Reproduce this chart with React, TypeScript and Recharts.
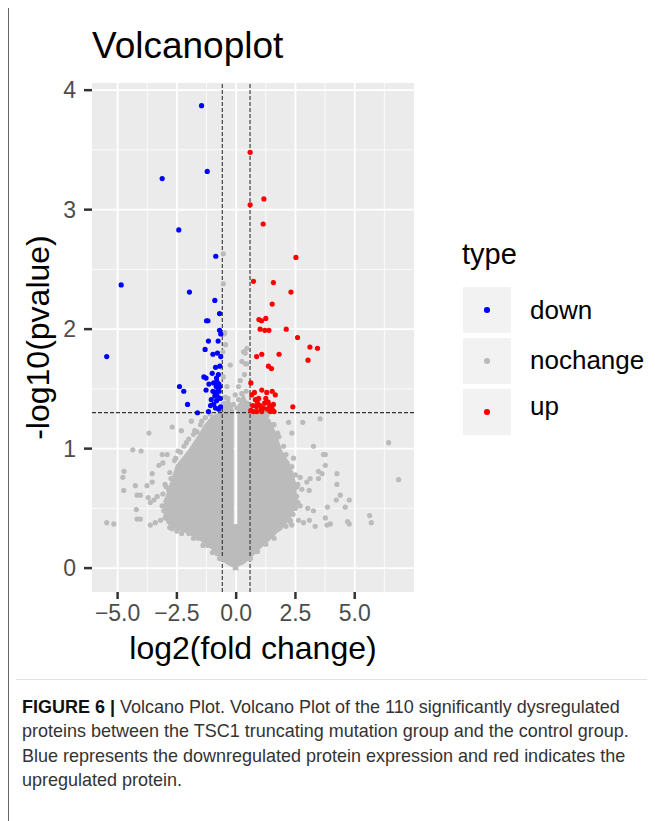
import React from "react";
import {
  ComposedChart,
  Area,
  Scatter,
  XAxis,
  YAxis,
  CartesianGrid,
  ReferenceLine,
  Legend,
} from "recharts";

// significant proteins, [log2 fold change, -log10 p]
const downPoints: [number, number][] = [
  [-1.46, 3.87], [-1.22, 3.32], [-3.12, 3.26], [-2.42, 2.83], [-0.86, 2.61],
  [-4.85, 2.37], [-1.97, 2.31], [-0.9, 2.24], [-0.7, 2.13], [-1.25, 2.07],
  [-1.19, 2.07], [-0.7, 1.99], [-0.65, 1.96], [-1.17, 1.9], [-0.76, 1.9],
  [-1.31, 1.83], [-0.98, 1.79], [-0.79, 1.8], [-0.65, 1.77], [-5.46, 1.77],
  [-0.87, 1.68], [-0.69, 1.69], [-1.01, 1.63], [-1.36, 1.6], [-1.27, 1.59],
  [-0.83, 1.59], [-1.15, 1.54], [-0.81, 1.56], [-0.73, 1.54], [-0.84, 1.52],
  [-0.69, 1.52], [-2.39, 1.52], [-2.21, 1.48], [-1.27, 1.49], [-0.98, 1.48],
  [-0.9, 1.47], [-0.79, 1.48], [-0.72, 1.48], [-0.9, 1.44], [-0.8, 1.44],
  [-1.05, 1.41], [-0.83, 1.4], [-2.05, 1.37], [-1.08, 1.36], [-0.87, 1.34],
  [-0.73, 1.33], [-1.17, 1.31], [-1.63, 1.3], [-0.95, 1.55], [-0.75, 1.62],
  [-0.68, 1.42], [-0.95, 1.37], [-0.66, 1.35],
];

const upPoints: [number, number][] = [
  [0.59, 3.48], [1.17, 3.09], [0.59, 3.04], [1.14, 2.88], [2.52, 2.6],
  [0.73, 2.4], [1.57, 2.39], [2.31, 2.31], [1.52, 2.21], [0.96, 2.08],
  [1.07, 2.07], [1.25, 2.09], [1.01, 2.0], [1.21, 1.99], [1.38, 1.99],
  [2.11, 2.0], [2.59, 1.93], [3.11, 1.85], [3.43, 1.84], [3.03, 1.74],
  [0.86, 1.77], [1.08, 1.79], [1.81, 1.79], [1.36, 1.69], [1.49, 1.67],
  [0.62, 1.55], [0.77, 1.47], [1.08, 1.49], [1.29, 1.47], [1.52, 1.48],
  [1.65, 1.45], [0.81, 1.41], [0.9, 1.38], [1.01, 1.36], [1.15, 1.34],
  [1.41, 1.36], [1.57, 1.37], [1.52, 1.33], [1.32, 1.33], [2.39, 1.35],
  [0.62, 1.32], [0.73, 1.31], [0.87, 1.31], [1.08, 1.31], [0.95, 1.42],
  [1.2, 1.38], [1.45, 1.31], [0.7, 1.36], [1.25, 1.42], [1.6, 1.31],
  [0.66, 1.45], [1.05, 1.33], [1.35, 1.39], [0.85, 1.35],
];

// scattered non-significant proteins around the dense core
const nochangePoints: [number, number][] = [
  [-5.46, 0.38], [-5.16, 0.37], [-4.78, 0.76], [-4.73, 0.81], [-4.36, 0.99],
  [-4.01, 0.98], [-3.68, 1.13], [-4.74, 0.65], [-4.25, 0.69], [-4.18, 0.61],
  [-4.04, 0.61], [-4.21, 0.49], [-4.18, 0.41], [-4.04, 0.41], [-3.76, 0.69],
  [-3.71, 0.59], [-3.62, 0.55], [-3.62, 0.36], [-3.54, 0.79], [-3.54, 0.72],
  [-3.47, 0.57], [-3.41, 0.38], [-3.33, 0.6], [-3.26, 0.86], [-3.19, 0.4],
  [-3.12, 0.95], [-3.12, 0.52], [-3.09, 0.88], [-3.09, 0.62], [-2.91, 0.95],
  [-2.91, 0.57], [-2.91, 0.44], [-2.84, 0.65], [-2.7, 1.18], [-2.7, 0.33],
  [-2.31, 1.15], [-2.21, 0.32], [-1.89, 1.23], [-1.86, 0.3], [-1.65, 1.14],
  [-1.36, 0.23], [-2.6, 0.9], [-2.45, 0.98], [-2.2, 1.02], [-2.0, 1.08],
  [-1.8, 1.12], [-1.5, 1.2], [-1.3, 1.26], [-1.1, 1.29], [-2.8, 0.8],
  [-3.0, 0.7], [-3.05, 0.48], [-2.6, 0.36], [-2.4, 0.35], [-2.0, 0.29],
  [-1.6, 0.25], [-1.2, 0.19], [-0.8, 0.12], [-0.5, 0.07],
  [-2.55, 0.92], [-2.35, 0.97], [-2.1, 1.05], [-1.75, 1.15], [-1.45, 1.23],
  [-2.95, 0.68], [-2.75, 0.75], [-2.8, 0.34], [-2.5, 0.31], [-2.3, 0.29],
  [-1.8, 0.25], [-1.4, 0.19], [-1.0, 0.13], [-0.7, 0.08], [-3.0, 0.42],
  [2.81, 1.22], [3.54, 1.25], [2.35, 1.13], [2.21, 1.22], [3.26, 1.02],
  [3.76, 0.95], [6.43, 1.05], [6.85, 0.74], [2.42, 0.92], [2.14, 0.88],
  [3.47, 0.81], [3.47, 0.75], [4.25, 0.79], [4.25, 0.7], [3.12, 0.75],
  [2.98, 0.72], [2.7, 0.76], [3.08, 0.65], [2.56, 0.68], [2.77, 0.66],
  [4.39, 0.61], [4.22, 0.57], [4.77, 0.57], [3.85, 0.51], [4.6, 0.51],
  [3.02, 0.5], [3.26, 0.48], [2.7, 0.52], [2.49, 0.51], [5.63, 0.44],
  [5.7, 0.38], [3.76, 0.42], [3.83, 0.36], [3.97, 0.37], [4.7, 0.39],
  [4.77, 0.37], [3.09, 0.4], [3.33, 0.35], [2.84, 0.38], [2.63, 0.4],
  [2.35, 0.36], [2.28, 0.4], [1.72, 0.99], [1.43, 0.27], [3.68, 0.95],
  [3.76, 0.86], [3.62, 0.79], [1.6, 1.2], [1.8, 1.1], [2.0, 1.02],
  [2.3, 0.8], [2.55, 0.6], [2.4, 0.45], [2.0, 0.37], [1.8, 0.33],
  [1.5, 0.28], [1.1, 0.21], [0.8, 0.14], [0.5, 0.08], [1.3, 1.28],
  [1.9, 0.6], [2.6, 0.55],
  [1.55, 1.2], [1.75, 1.13], [2.1, 0.95], [2.35, 0.85], [1.2, 1.3],
  [2.3, 0.38], [2.1, 0.35], [1.6, 0.25], [1.25, 0.2], [0.9, 0.14],
  [0.6, 0.08], [2.5, 0.5], [2.6, 0.7], [2.5, 0.78],
  [-0.54, 2.63], [-0.54, 2.38], [-0.51, 1.96], [-0.45, 1.87], [-0.56, 1.81],
  [-0.25, 1.7], [-0.54, 1.6], [-0.39, 1.52], [-0.46, 1.43], [-0.25, 1.35],
  [-0.11, 1.37], [-0.04, 1.45], [0.03, 1.34], [0.1, 1.52], [0.17, 1.57],
  [0.17, 1.36], [0.24, 1.46], [0.24, 1.73], [0.31, 1.81], [0.35, 1.62],
  [0.38, 1.8], [0.39, 1.71], [0.42, 1.48], [0.45, 1.84], [0.45, 1.71],
  [0.52, 1.34], [-0.48, 1.97], [-0.35, 1.42], [0.3, 1.4], [0.45, 1.38],
  [-0.5, 1.38], [0.1, 1.41],
];

// envelope of the dense grey core (too many points to draw one by one)
const leftCoreX = [-3.05, -2.9, -2.7, -2.5, -2.2, -1.9, -1.6, -1.3, -1.0, -0.6, -0.45, -0.3, -0.1];
const leftCoreLow = [0.47, 0.38, 0.35, 0.33, 0.31, 0.28, 0.25, 0.21, 0.16, 0.08, 0.05, 0.03, 0.01];
const leftCoreHigh = [0.55, 0.62, 0.74, 0.86, 0.93, 1.01, 1.1, 1.2, 1.27, 1.3, 1.38, 1.4, 1.3];
const rightCoreX = [0.05, 0.3, 0.6, 1.0, 1.4, 1.7, 1.9, 2.2, 2.45, 2.55];
const rightCoreLow = [0.02, 0.04, 0.09, 0.17, 0.24, 0.3, 0.33, 0.4, 0.5, 0.58];
const rightCoreHigh = [1.3, 1.45, 1.3, 1.3, 1.24, 1.1, 0.98, 0.88, 0.74, 0.66];
const centreCoreX = [-0.14, 0.09];
const centreCoreLow = [-0.01, -0.01];
const centreCoreHigh = [0.36, 0.36];

const xTicks = [-5, -2.5, 0, 2.5, 5];
const yTicks = [0, 1, 2, 3, 4];
const xMinor = [-3.75, -1.25, 1.25, 3.75, 6.25];
const yMinor = [0.5, 1.5, 2.5, 3.5];
const fcCutoff = 0.585;
const pCutoff = 1.301;

const types = ["down", "nochange", "up"];
const typeColors: Record<string, string> = {
  down: "#0000FF",
  nochange: "#BBBBBB",
  up: "#FF0000",
};

const captionLines = [
  "Volcano Plot. Volcano Plot of the 110 significantly dysregulated",
  "proteins between the TSC1 truncating mutation group and the control group.",
  "Blue represents the downregulated protein expression and red indicates the",
  "upregulated protein.",
];

const toXY = (pts: [number, number][]) => pts.map(([x, y]) => ({ x, y }));

const coreRows = [
  ...leftCoreX.map((x, i) => ({ x, left: [leftCoreLow[i], leftCoreHigh[i]] })),
  ...rightCoreX.map((x, i) => ({ x, right: [rightCoreLow[i], rightCoreHigh[i]] })),
  ...centreCoreX.map((x, i) => ({ x, centre: [centreCoreLow[i], centreCoreHigh[i]] })),
].sort((a, b) => a.x - b.x);

const dot = (color: string) => (p: any) =>
  <circle cx={p.cx} cy={p.cy} r={2.6} fill={color} />;

const fmtX = (v: number) => (v < 0 ? "\u2212" + Math.abs(v).toFixed(1) : v.toFixed(1));

const LegendBox = () => (
  <div style={{ position: "relative", width: 190, height: 210, fontFamily: "inherit" }}>
    <div style={{ position: "absolute", left: 15, top: 8, fontSize: 29, lineHeight: "29px", color: "#000" }}>
      type
    </div>
    {types.map((t, i) => (
      <React.Fragment key={t}>
        <div
          style={{
            position: "absolute",
            left: 16,
            top: 55 + i * 51,
            width: 48,
            height: 46,
            background: "#F2F2F2",
          }}
        >
          <div
            style={{
              position: "absolute",
              left: 21,
              top: 20,
              width: 5.5,
              height: 5.5,
              borderRadius: "50%",
              background: typeColors[t],
            }}
          />
        </div>
        <div
          style={{
            position: "absolute",
            left: 83,
            top: [65, 115, 161][i],
            fontSize: 26,
            lineHeight: "26px",
            color: "#000",
            whiteSpace: "nowrap",
          }}
        >
          {t}
        </div>
      </React.Fragment>
    ))}
  </div>
);

export default function App() {
  return (
    <div
      style={{
        position: "relative",
        width: 647,
        height: 813,
        background: "#fff",
        fontFamily: '"Liberation Sans", Arial, Helvetica, sans-serif',
      }}
    >
      <div style={{ position: "absolute", left: -1, top: -2, width: 648, height: 2, background: "#666" }} />
      <div style={{ position: "absolute", left: -1, top: -2, width: 2, height: 815, background: "#666" }} />

      <div
        style={{
          position: "absolute",
          left: 84,
          top: 19,
          fontSize: 37,
          lineHeight: "37px",
          color: "#000",
          zIndex: 2,
        }}
      >
        Volcanoplot
      </div>

      <ComposedChart
        width={647}
        height={680}
        data={coreRows}
        margin={{ top: 75, right: 241, bottom: 0, left: 0 }}
      >
        <CartesianGrid
          fill="#EBEBEB"
          stroke="#FFFFFF"
          strokeWidth={0.8}
          horizontalValues={yMinor}
          verticalValues={xMinor}
        />
        <CartesianGrid
          stroke="#FFFFFF"
          strokeWidth={1.8}
          horizontalValues={yTicks}
          verticalValues={xTicks}
        />
        <XAxis
          type="number"
          dataKey="x"
          domain={[-6.08, 7.5]}
          ticks={xTicks}
          allowDataOverflow
          axisLine={false}
          tickLine={{ stroke: "#333333", strokeWidth: 2.5 }}
          tickSize={7}
          tickMargin={6}
          tick={{ fill: "#4D4D4D", fontSize: 23 }}
          tickFormatter={fmtX}
          height={96}
          label={() => (
            <text x={245} y={651} textAnchor="middle" fontSize={32} fill="#000">
              log2(fold change)
            </text>
          )}
        />
        <YAxis
          type="number"
          domain={[-0.2, 4.06]}
          ticks={yTicks}
          allowDataOverflow
          axisLine={false}
          tickLine={{ stroke: "#333333", strokeWidth: 2.5 }}
          tickSize={8}
          tickMargin={8}
          tick={{ fill: "#4D4D4D", fontSize: 23 }}
          width={84}
          label={() => (
            <text
              x={41}
              y={329.5}
              transform="rotate(-90, 41, 329.5)"
              textAnchor="middle"
              fontSize={32}
              fill="#000"
            >
              -log10(pvalue)
            </text>
          )}
        />
        <Area
          dataKey="left"
          type="linear"
          connectNulls
          fill={typeColors.nochange}
          fillOpacity={1}
          stroke={typeColors.nochange}
          strokeWidth={2}
          isAnimationActive={false}
          legendType="none"
        />
        <Area
          dataKey="centre"
          type="linear"
          connectNulls
          fill={typeColors.nochange}
          fillOpacity={1}
          stroke={typeColors.nochange}
          strokeWidth={2}
          isAnimationActive={false}
          legendType="none"
        />
        <Area
          dataKey="right"
          type="linear"
          connectNulls
          fill={typeColors.nochange}
          fillOpacity={1}
          stroke={typeColors.nochange}
          strokeWidth={2}
          isAnimationActive={false}
          legendType="none"
        />
        <Scatter
          name="nochange"
          data={toXY(nochangePoints)}
          dataKey="y"
          shape={dot(typeColors.nochange)}
          isAnimationActive={false}
        />
        <Scatter
          name="down"
          data={toXY(downPoints)}
          dataKey="y"
          shape={dot(typeColors.down)}
          isAnimationActive={false}
        />
        <Scatter
          name="up"
          data={toXY(upPoints)}
          dataKey="y"
          shape={dot(typeColors.up)}
          isAnimationActive={false}
        />
        <ReferenceLine x={-fcCutoff} stroke="#333" strokeWidth={1.1} strokeDasharray="4 2" />
        <ReferenceLine x={fcCutoff} stroke="#333" strokeWidth={1.1} strokeDasharray="4 2" />
        <ReferenceLine y={pCutoff} stroke="#333" strokeWidth={1.1} strokeDasharray="4 2" />
        <Legend
          layout="vertical"
          align="center"
          verticalAlign="middle"
          content={() => <LegendBox />}
          wrapperStyle={{ left: 439, top: 224, width: 190 }}
        />
      </ComposedChart>

      <div style={{ position: "absolute", left: 8, top: 671, width: 639, height: 1, background: "#E2E2E2" }} />

      <div
        style={{
          position: "absolute",
          left: 14,
          top: 687,
          fontSize: 19,
          lineHeight: "24.3px",
          color: "#333",
          whiteSpace: "nowrap",
          transform: "scaleX(0.947)",
          transformOrigin: "0 0",
        }}
      >
        {captionLines.map((line, i) => (
          <div key={i}>
            {i === 0 && <b style={{ color: "#111" }}>FIGURE 6 | </b>}
            {line}
          </div>
        ))}
      </div>
    </div>
  );
}
